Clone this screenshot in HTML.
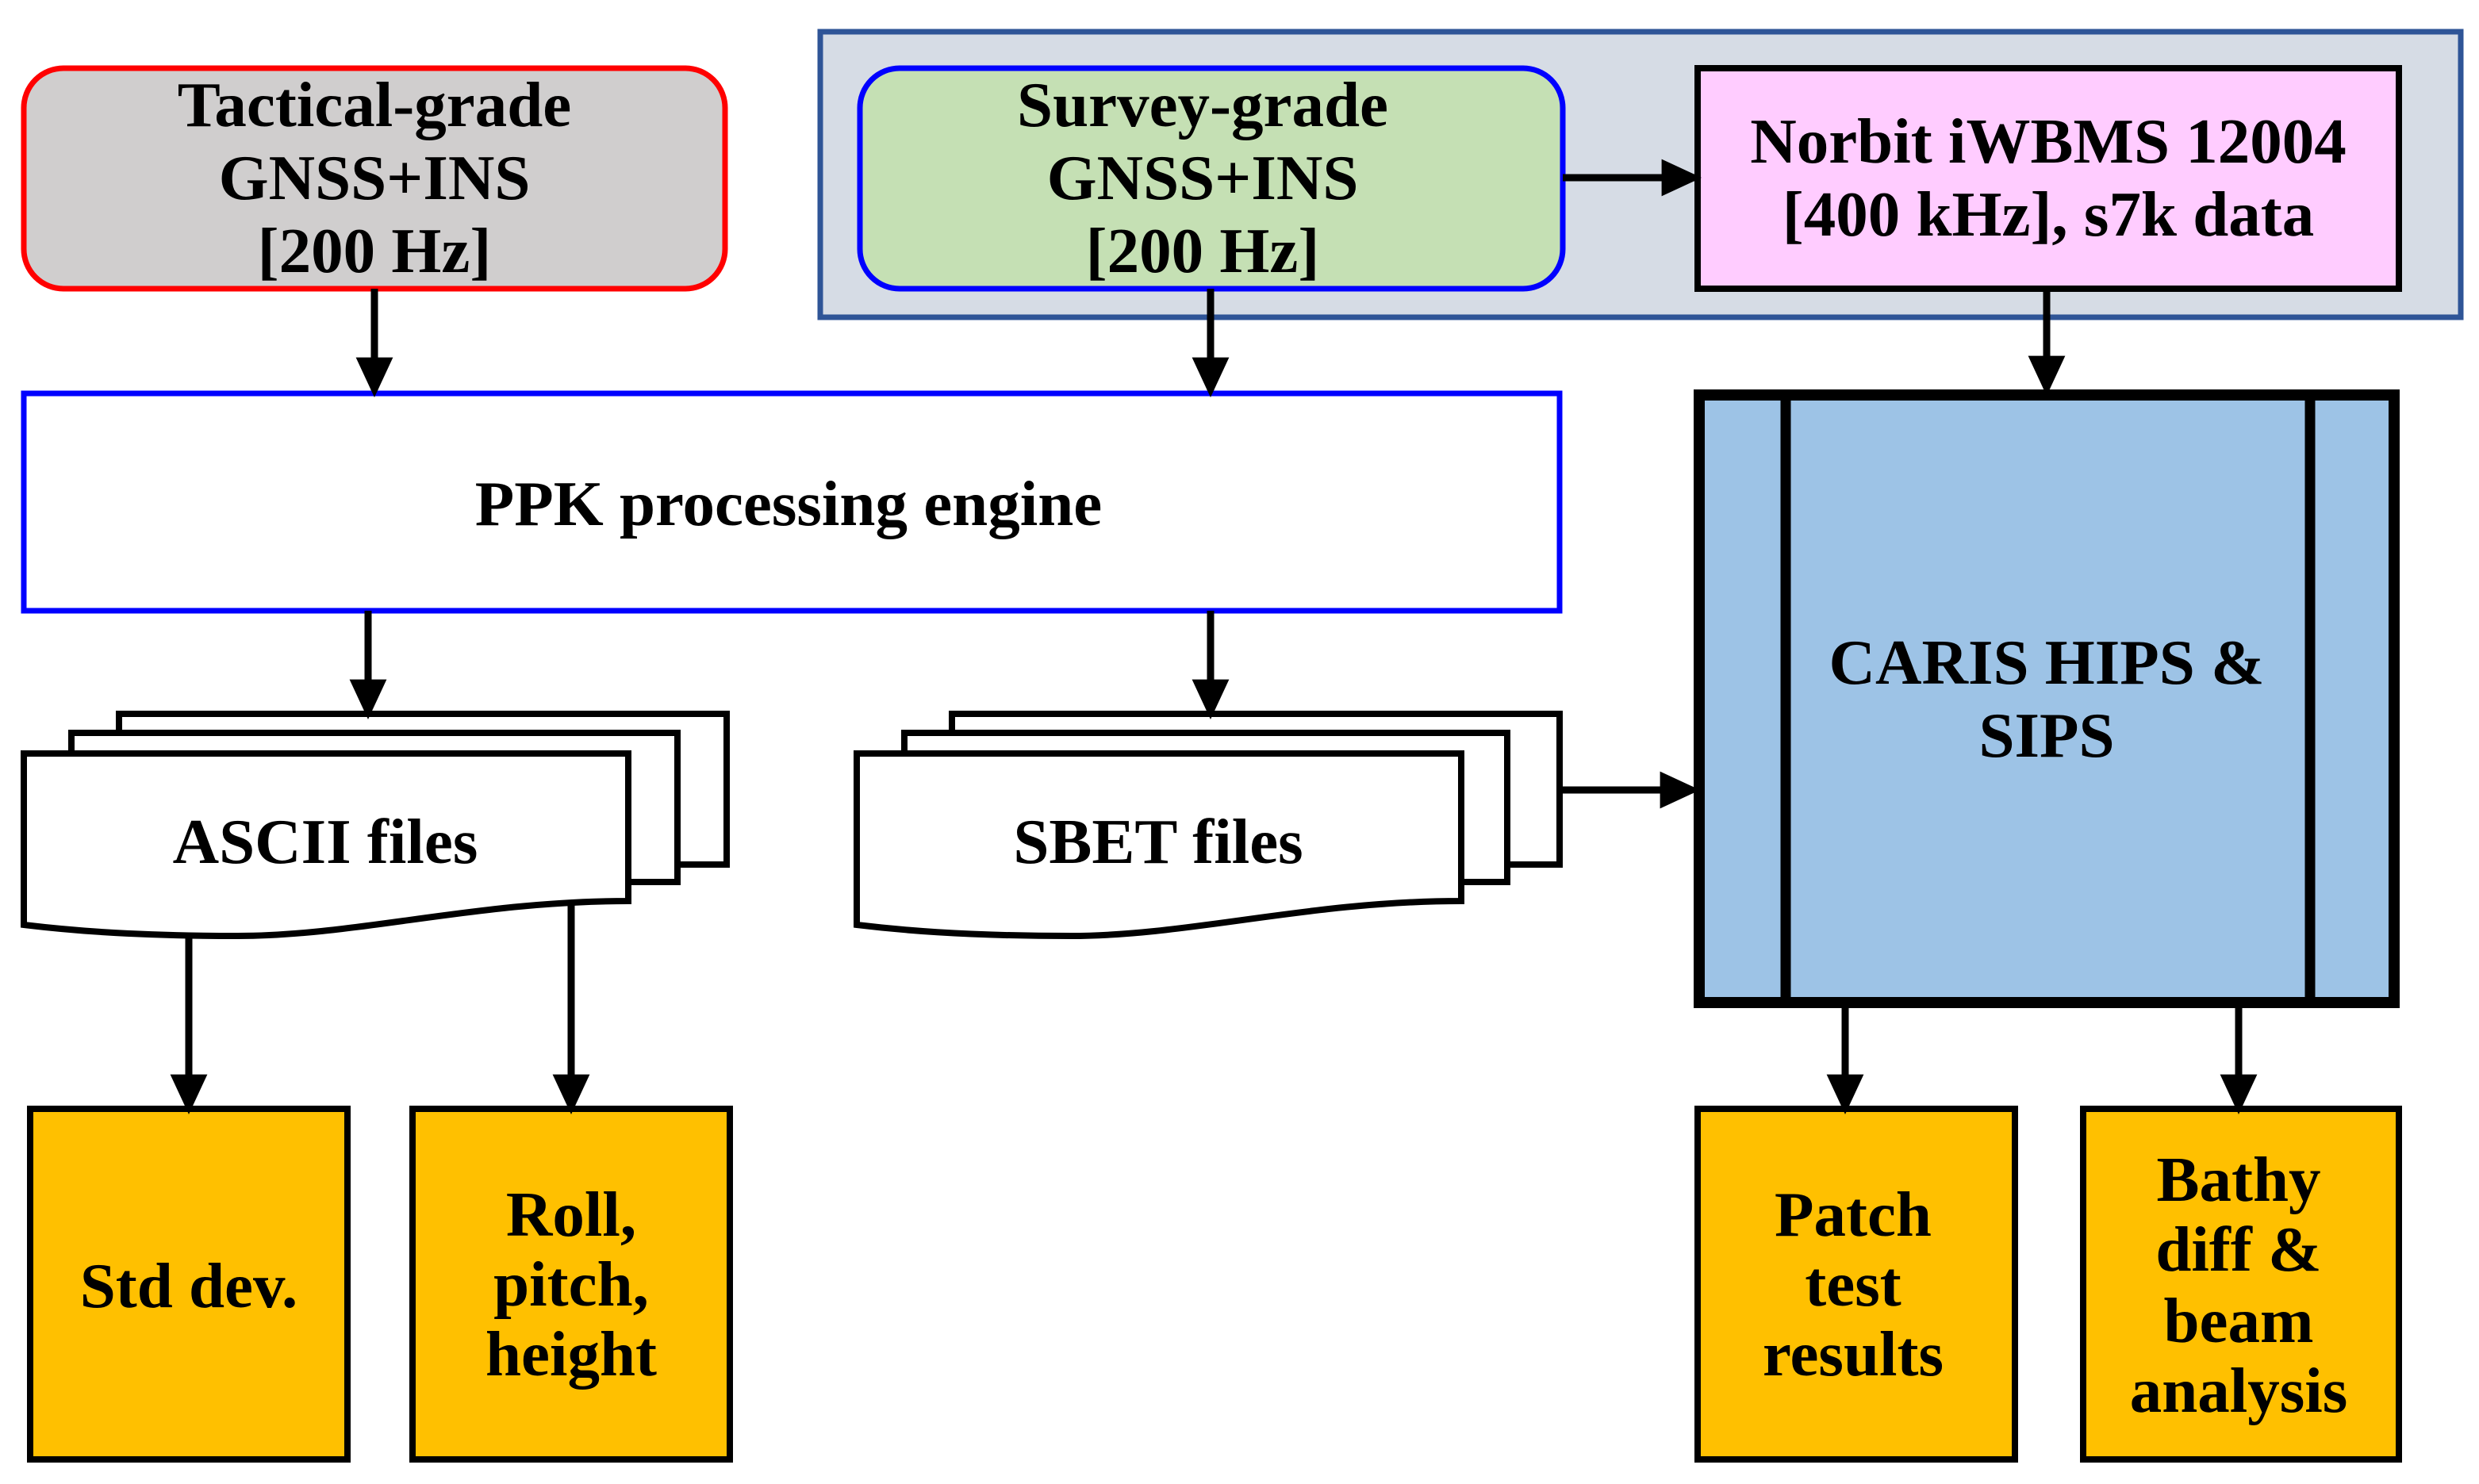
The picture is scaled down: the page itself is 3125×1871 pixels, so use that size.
<!DOCTYPE html>
<html><head><meta charset="utf-8"><style>
html,body{margin:0;padding:0;background:#fff;}
svg{display:block;}
text{font-family:"Liberation Serif",serif;font-weight:bold;font-size:81px;fill:#000;text-anchor:middle;}
</style></head><body>
<svg width="3125" height="1871" viewBox="0 0 3125 1871" xmlns="http://www.w3.org/2000/svg">
<defs>
<marker id="ah" markerWidth="5.6" markerHeight="5.2" refX="4.6" refY="2.6" orient="auto" markerUnits="strokeWidth">
<path d="M0,0 L5.6,2.6 L0,5.2 Z" fill="#000"/></marker>
</defs>
<rect x="1034" y="40" width="2068" height="360" fill="#d6dce5" stroke="#2f5597" stroke-width="7"/>
<rect x="30" y="86" width="884" height="278" rx="50" fill="#d0cece" stroke="#ff0000" stroke-width="7"/>
<text x="472" y="159">Tactical-grade</text>
<text x="472" y="251">GNSS+INS</text>
<text x="472" y="343">[200 Hz]</text>
<rect x="1084" y="86" width="886" height="278" rx="50" fill="#c5e0b4" stroke="#0000ff" stroke-width="7"/>
<text x="1516" y="159">Survey-grade</text>
<text x="1516" y="251">GNSS+INS</text>
<text x="1516" y="343">[200 Hz]</text>
<rect x="2140" y="86" width="884" height="278" fill="#ffccff" stroke="#000" stroke-width="8"/>
<text x="2582" y="205">Norbit iWBMS 12004</text>
<text x="2582" y="297">[400 kHz], s7k data</text>
<rect x="30" y="496" width="1936" height="274" fill="#fff" stroke="#0000ff" stroke-width="7"/>
<text x="994" y="662">PPK processing engine</text>
<rect x="2142" y="498" width="876" height="766" fill="#9dc3e6" stroke="#000" stroke-width="14"/>
<line x1="2251" y1="498" x2="2251" y2="1264" stroke="#000" stroke-width="13"/>
<line x1="2912" y1="498" x2="2912" y2="1264" stroke="#000" stroke-width="13"/>
<text x="2580" y="862">CARIS HIPS &amp;</text>
<text x="2580" y="954">SIPS</text>
<g fill="#fff" stroke="#000" stroke-width="8">
<rect x="150" y="900" width="766" height="190"/>
<rect x="90" y="924" width="764" height="188"/>
<path d="M30,950 H792 V1136 C600,1136 450,1180 300,1180 C160,1180 80,1172 30,1166 Z"/>
<rect x="1200" y="900" width="766" height="190"/>
<rect x="1140" y="924" width="760" height="188"/>
<path d="M1080,950 H1842 V1136 C1650,1136 1500,1180 1350,1180 C1210,1180 1130,1172 1080,1166 Z"/>
</g>
<text x="410" y="1088">ASCII files</text>
<text x="1460" y="1088">SBET files</text>
<g fill="#ffc000" stroke="#000" stroke-width="8">
<rect x="38" y="1398" width="400" height="442"/>
<rect x="520" y="1398" width="400" height="442"/>
<rect x="2140" y="1398" width="400" height="442"/>
<rect x="2626" y="1398" width="398" height="442"/>
</g>
<text x="238" y="1648">Std dev.</text>
<text x="720" y="1558">Roll,</text>
<text x="720" y="1646">pitch,</text>
<text x="720" y="1734">height</text>
<text x="2336" y="1558">Patch</text>
<text x="2336" y="1646">test</text>
<text x="2336" y="1734">results</text>
<text x="2822" y="1514">Bathy</text>
<text x="2822" y="1602">diff &amp;</text>
<text x="2822" y="1692">beam</text>
<text x="2822" y="1780">analysis</text>
<g stroke="#000" stroke-width="9" marker-end="url(#ah)" fill="none">
<line x1="472" y1="364" x2="472" y2="492"/>
<line x1="1526" y1="364" x2="1526" y2="492"/>
<line x1="2580" y1="364" x2="2580" y2="490"/>
<line x1="1970" y1="224" x2="2136" y2="224"/>
<line x1="464" y1="770" x2="464" y2="898"/>
<line x1="1526" y1="770" x2="1526" y2="898"/>
<line x1="1966" y1="996" x2="2134" y2="996"/>
<line x1="238" y1="1180" x2="238" y2="1396"/>
<line x1="720" y1="1136" x2="720" y2="1396"/>
<line x1="2326" y1="1270" x2="2326" y2="1396"/>
<line x1="2822" y1="1270" x2="2822" y2="1396"/>
</g>
</svg>
</body></html>
